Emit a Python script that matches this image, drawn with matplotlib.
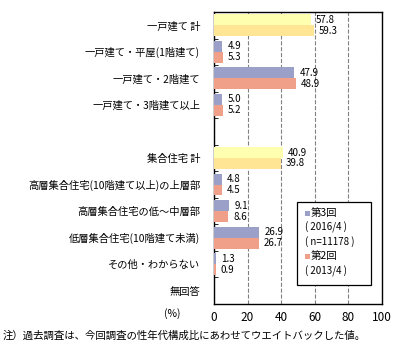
import numpy as np
import matplotlib.pyplot as plt
from matplotlib.patches import Rectangle

plt.rcParams['font.family'] = ['Noto Sans CJK JP', 'DejaVu Sans']

categories = ["一戸建て 計", "一戸建て・平屋(1階建て)", "一戸建て・2階建て", "一戸建て・3階建て以上", "",
              "集合住宅 計", "高層集合住宅(10階建て以上)の上層部", "高層集合住宅の低～中層部",
              "低層集合住宅(10階建て未満)", "その他・わからない", "無回答"]
vals_3 = [57.8, 4.9, 47.9, 5.0, None, 40.9, 4.8, 9.1, 26.9, 1.3, None]
vals_2 = [59.3, 5.3, 48.9, 5.2, None, 39.8, 4.5, 8.6, 26.7, 0.9, None]
total_rows = [0, 5]
x_ticks = [0, 20, 40, 60, 80, 100]

c3 = "#9aa0c8"
c2 = "#f0a088"
c3_tot = "#ffffb0"
c2_tot = "#ffe594"

fig = plt.figure(figsize=(4.08, 3.53), dpi=100)
ax = fig.add_axes([214 / 408, 1 - 304 / 353, 168 / 408, 292 / 353])

n = len(categories)
h = 0.41
for i in range(n):
    if vals_3[i] is None:
        continue
    col3 = c3_tot if i in total_rows else c3
    col2 = c2_tot if i in total_rows else c2
    ax.barh(i - h / 2, vals_3[i], height=h, color=col3, edgecolor='none', zorder=3)
    ax.barh(i + h / 2, vals_2[i], height=h, color=col2, edgecolor='none', zorder=3)
    ax.text(vals_3[i] + 3, i - h / 2, f"{vals_3[i]:.1f}", va='center', ha='left', fontsize=7)
    ax.text(vals_2[i] + 3, i + h / 2, f"{vals_2[i]:.1f}", va='center', ha='left', fontsize=7)

ax.set_xlim(0, 100)
ax.set_ylim(n - 0.5, -0.5)
ax.set_xticks(x_ticks)
ax.tick_params(axis='x', length=0, labelsize=8.5, pad=5)
ax.set_yticks(np.arange(n))
ax.set_yticklabels(categories, fontsize=7.4)
ax.tick_params(axis='y', length=0, pad=10)
ax.set_yticks(np.arange(n + 1) - 0.5, minor=True)
ax.tick_params(axis='y', which='minor', length=3, direction='in', color='black')
ax.grid(axis='x', color='#808080', linestyle='--', linewidth=0.8, zorder=0)
for s in ax.spines.values():
    s.set_linewidth(1.0)

# legend box
lx0, ly0 = 297 / 408, 1 - 285 / 353
lw, lh = 74 / 408, 83 / 353
fig.patches.append(Rectangle((lx0, ly0), lw, lh, transform=fig.transFigure,
                             facecolor='white', edgecolor='black', linewidth=0.9, zorder=5))
rows = [(c3, "第3回"), (None, "( 2016/4 )"), (None, "( n=11178 )"), (c2, "第2回"), (None, "( 2013/4 )")]
for k, (col, txt) in enumerate(rows):
    y = 1 - (213 + k * 14.5) / 353
    if col is not None:
        fig.patches.append(Rectangle((305 / 408, y - 2.5 / 353), 5 / 408, 5 / 353,
                                     transform=fig.transFigure, facecolor=col, edgecolor='none', zorder=6))
        fig.text(311 / 408, y, txt, fontsize=7.5, va='center', ha='left', zorder=7)
    else:
        fig.text(305 / 408, y, txt, fontsize=7, va='center', ha='left', zorder=7)

fig.text(172 / 408, 1 - 314 / 353, "(%)", fontsize=7.5, va='center', ha='center')
fig.text(3 / 408, 1 - 336 / 353, "注）過去調査は、今回調査の性年代構成比にあわせてウエイトバックした値。",
         fontsize=7.5, va='center', ha='left')

fig.savefig("out.png", dpi=100)
